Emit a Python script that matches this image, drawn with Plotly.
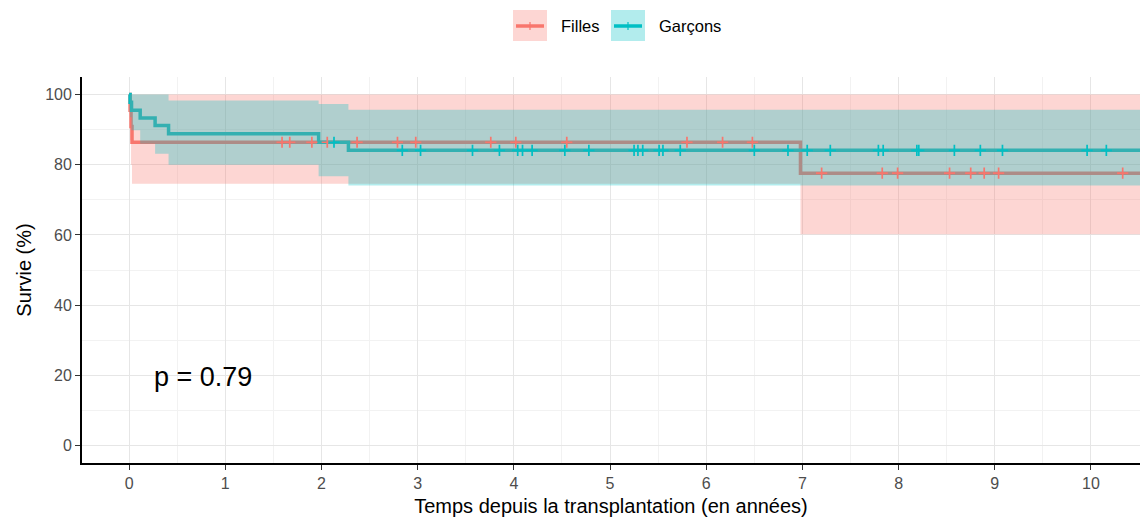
import numpy as np
import plotly.graph_objects as go

# ---------------- data ----------------
# Filles (red)
f_time = [0.0, 0.01, 0.02, 0.03, 6.98, 10.6]
f_surv = [100, 95.5, 90.9, 86.4, 77.6, 77.6]
f_upper = [100, 100, 100, 100, 100, 100]
f_lower = [100, 87.0, 80.0, 74.6, 60.2, 60.2]
f_cens = [1.59, 1.67, 1.90, 2.06, 2.37, 2.79, 2.98, 3.76, 4.02, 4.55, 5.80,
          6.17, 6.48, 7.20, 7.83, 7.99, 8.53, 8.75, 8.89, 9.04, 10.33]

# Garçons (teal)
g_time = [0.0, 0.01, 0.025, 0.115, 0.27, 0.41, 1.97, 2.28, 10.6]
g_surv = [100, 97.8, 95.5, 93.3, 91.2, 88.8, 86.4, 84.1, 84.1]
g_upper = [100, 100, 100, 100, 100, 98.3, 97.3, 95.7, 95.7]
g_lower = [100, 93.5, 89.8, 86.0, 83.1, 80.0, 76.7, 74.1, 74.1]
g_cens = [2.13, 2.84, 3.03, 3.57, 3.85, 4.04, 4.09, 4.19, 4.53, 4.78, 5.25,
          5.29, 5.34, 5.51, 5.55, 5.73, 6.50, 6.85, 7.05, 7.29, 7.79, 7.84,
          8.19, 8.21, 8.58, 8.85, 9.08, 9.96, 10.16]

groups = ["Filles", "Garçons"]
p_text = "p = 0.79"

RED = "#F8766D"
TEAL = "#00BFC4"
RED_FILL = "rgba(248,118,109,0.3)"
TEAL_FILL = "rgba(0,191,196,0.3)"
FONT = "Liberation Sans, Arial, sans-serif"


def step_value(times, surv, t):
    idx = np.searchsorted(np.asarray(times), np.asarray(t), side="right") - 1
    return np.asarray(surv)[idx]


series = [
    (f_time, f_surv, f_upper, f_lower, f_cens, RED, RED_FILL),
    (g_time, g_surv, g_upper, g_lower, g_cens, TEAL, TEAL_FILL),
]

fig = go.Figure()

# survival step lines (drawn first, ribbons lie on top of them)
for t, s, up, lo, c, col, fcol in series:
    fig.add_trace(go.Scatter(x=t, y=s, mode="lines",
                             line=dict(color=col, width=3.5, shape="hv"),
                             showlegend=False, hoverinfo="skip"))

# confidence ribbons
for t, s, up, lo, c, col, fcol in series:
    fig.add_trace(go.Scatter(x=t, y=lo, mode="lines",
                             line=dict(width=0, shape="hv", color=fcol),
                             showlegend=False, hoverinfo="skip"))
    fig.add_trace(go.Scatter(x=t, y=up, mode="lines", fill="tonexty",
                             fillcolor=fcol,
                             line=dict(width=0, shape="hv", color=fcol),
                             showlegend=False, hoverinfo="skip"))

# censoring marks
for t, s, up, lo, c, col, fcol in series:
    fig.add_trace(go.Scatter(x=c, y=step_value(t, s, c), mode="markers",
                             marker=dict(symbol="cross-thin", size=8,
                                         line=dict(color=col, width=1.7)),
                             showlegend=False, hoverinfo="skip"))

# p-value annotation
fig.add_annotation(x=0.24, y=19.6, xref="x", yref="y", text=p_text,
                   showarrow=False, xanchor="left", yanchor="middle",
                   font=dict(family=FONT, size=27, color="black"))

# manual legend (boxes + line + censor tick)
W, PL, PT, PH = 1140, 82, 77, 386
PW = W - PL


def px(xp):
    return (xp - PL) / PW


def py(yp):
    return (PT + PH - yp) / PH


legend_items = [(groups[0], RED, RED_FILL, 513), (groups[1], TEAL, TEAL_FILL, 611)]
for name, col, fcol, x0 in legend_items:
    fig.add_shape(type="rect", xref="paper", yref="paper",
                  x0=px(x0), x1=px(x0 + 34), y0=py(41), y1=py(10),
                  fillcolor=fcol, line=dict(width=0), layer="above")
    fig.add_shape(type="line", xref="paper", yref="paper",
                  x0=px(x0 + 3), x1=px(x0 + 31), y0=py(26), y1=py(26),
                  line=dict(color=col, width=3.5), layer="above")
    fig.add_shape(type="line", xref="paper", yref="paper",
                  x0=px(x0 + 17), x1=px(x0 + 17), y0=py(22), y1=py(30),
                  line=dict(color=col, width=1.2), layer="above")
    fig.add_annotation(x=px(x0 + 46), y=py(26), xref="paper", yref="paper",
                       text=name, showarrow=False, xanchor="left",
                       yanchor="middle",
                       font=dict(family=FONT, size=16.5, color="black"))

axis_common = dict(
    showline=True, linecolor="black", linewidth=1.8,
    ticks="outside", ticklen=5, tickwidth=1, tickcolor="#333333",
    tickfont=dict(family=FONT, size=16, color="#4D4D4D"),
    showgrid=True, gridcolor="#E6E6E6", gridwidth=1.4,
    zeroline=False, mirror=False,
)

fig.update_layout(
    width=1140, height=523,
    margin=dict(l=PL, r=0, t=PT, b=523 - PT - PH),
    plot_bgcolor="white", paper_bgcolor="white",
    showlegend=False,
    font=dict(family=FONT),
    xaxis=dict(range=[-0.49, 10.51], tickmode="linear", tick0=0, dtick=1,
               minor=dict(dtick=0.5, showgrid=True, gridcolor="#F2F2F2",
                          gridwidth=1, ticks=""),
               title=dict(text="Temps depuis la transplantation (en années)",
                          font=dict(family=FONT, size=20, color="black"),
                          standoff=8),
               **axis_common),
    yaxis=dict(range=[-5, 105], tickmode="linear", tick0=0, dtick=20,
               minor=dict(dtick=10, showgrid=True, gridcolor="#F2F2F2",
                          gridwidth=1, ticks=""),
               title=dict(text="Survie (%)",
                          font=dict(family=FONT, size=20, color="black"),
                          standoff=8),
               **axis_common),
)

fig.write_html("out.html")
